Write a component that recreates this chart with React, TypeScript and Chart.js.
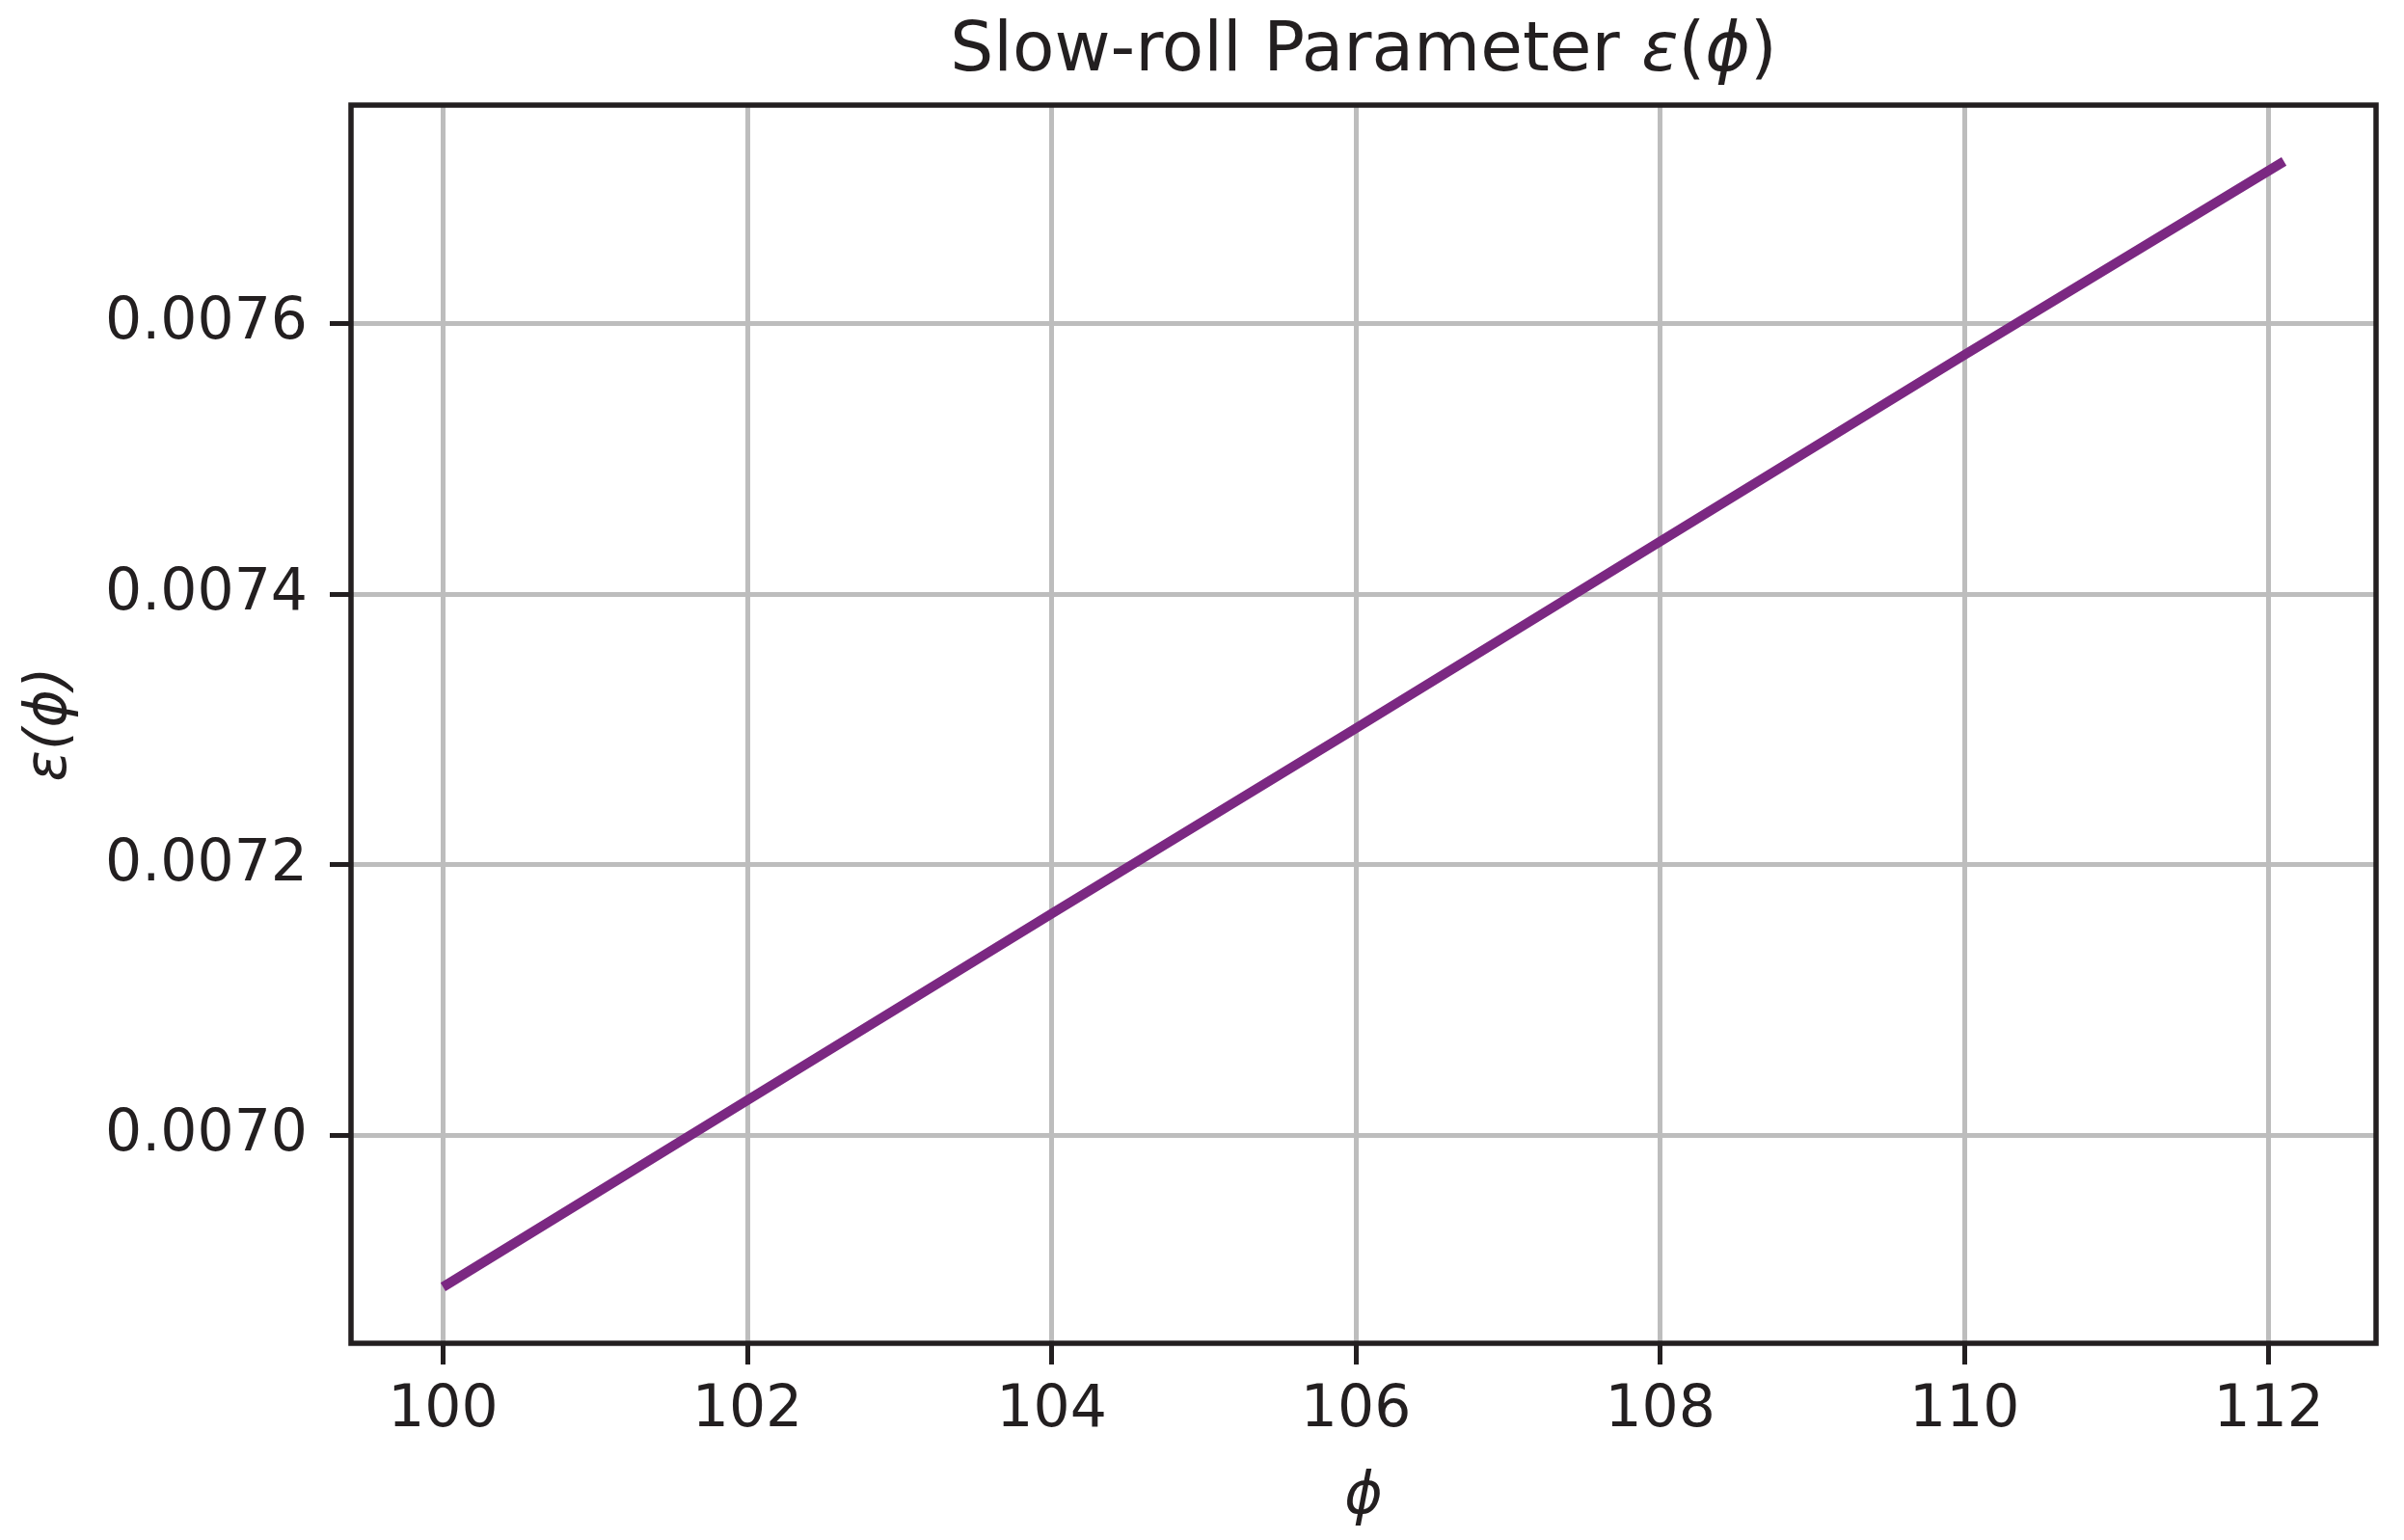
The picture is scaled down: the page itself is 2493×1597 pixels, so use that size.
import { Chart, registerables } from 'chart.js';
import { useEffect, useRef } from 'react';

Chart.register(...registerables);

// values
const phiValues = [100, 102, 104, 106, 108, 110, 112.1];
const epsilonValues = [0.006888, 0.007026, 0.007164, 0.007301, 0.007439, 0.007577, 0.00772];
const xTickValues = [100, 102, 104, 106, 108, 110, 112];
const yTickValues = [0.007, 0.0072, 0.0074, 0.0076];

const TEXT = '#231f20';
const FONT = "'DejaVu Sans', sans-serif";
// title pieces: [text, italic?] (mathtext keeps brackets upright)
const titleParts: [string, boolean][] = [
  ['Slow-roll Parameter ', false],
  ['ε', true],
  ['(', false],
  ['ϕ', true],
  [')', false],
];

// matplotlib-like 5% margins
const pad = (arr: number[]) => {
  const lo = Math.min(...arr);
  const hi = Math.max(...arr);
  const m = (hi - lo) * 0.05;
  return [lo - m, hi + m];
};

// box round the plot + title with an italic math part
const frame = {
  id: 'frame',
  afterDraw(chart: any) {
    const { ctx, chartArea } = chart;
    ctx.save();
    ctx.strokeStyle = TEXT;
    ctx.lineWidth = 5.5;
    ctx.strokeRect(
      chartArea.left,
      chartArea.top,
      chartArea.right - chartArea.left,
      chartArea.bottom - chartArea.top,
    );

    ctx.fillStyle = TEXT;
    ctx.textBaseline = 'middle';
    ctx.textAlign = 'left';
    const fontOf = (it: boolean) => `${it ? 'italic' : 'normal'} 71px ${FONT}`;
    const widths = titleParts.map(([t, it]) => {
      ctx.font = fontOf(it);
      return ctx.measureText(t).width;
    });
    const total = widths.reduce((a, b) => a + b, 0);
    let x = (chartArea.left + chartArea.right) / 2 - total / 2;
    titleParts.forEach(([t, it], i) => {
      ctx.font = fontOf(it);
      ctx.fillText(t, x, 55);
      x += widths[i];
    });
    ctx.restore();
  },
};

function SlowRollChart() {
  const canvasRef = useRef<HTMLCanvasElement | null>(null);

  useEffect(() => {
    const [xMin, xMax] = pad(phiValues);
    const [yMin, yMax] = pad(epsilonValues);

    const chart = new Chart(canvasRef.current as HTMLCanvasElement, {
      type: 'line',
      data: {
        datasets: [
          {
            data: phiValues.map((x, i) => ({ x, y: epsilonValues[i] })),
            borderColor: '#7b2882',
            borderWidth: 10,
            pointRadius: 0,
            tension: 0,
            borderCapStyle: 'butt',
          },
        ],
      },
      options: {
        animation: false,
        responsive: true,
        maintainAspectRatio: false,
        devicePixelRatio: 1,
        layout: { padding: { left: 0, right: 29, top: 109, bottom: 0 } },
        plugins: {
          legend: { display: false },
          tooltip: { enabled: false },
          title: { display: false },
        },
        scales: {
          x: {
            type: 'linear',
            min: xMin,
            max: xMax,
            afterBuildTicks: (s: any) => {
              s.ticks = xTickValues.map((v) => ({ value: v }));
            },
            afterFit: (s: any) => {
              s.height = 204;
            },
            border: { display: false },
            grid: {
              color: '#bdbdbd',
              lineWidth: 5,
              tickColor: TEXT,
              tickWidth: 5,
              tickLength: 22,
            },
            ticks: {
              color: TEXT,
              padding: 12,
              maxRotation: 0,
              font: { family: FONT, size: 60 },
              callback: (v: any) => String(v),
            },
            title: {
              display: true,
              text: 'ϕ',
              color: TEXT,
              font: { family: FONT, size: 60, style: 'italic' },
              padding: { top: 0, bottom: 8 },
            },
          },
          y: {
            type: 'linear',
            min: yMin,
            max: yMax,
            afterBuildTicks: (s: any) => {
              s.ticks = yTickValues.map((v) => ({ value: v }));
            },
            afterFit: (s: any) => {
              s.width = 364;
            },
            border: { display: false },
            grid: {
              color: '#bdbdbd',
              lineWidth: 5,
              tickColor: TEXT,
              tickWidth: 5,
              tickLength: 22,
            },
            ticks: {
              color: TEXT,
              padding: 23,
              font: { family: FONT, size: 60 },
              callback: (v: any) => Number(v).toFixed(4),
            },
            title: {
              display: true,
              text: 'ε(ϕ)',
              color: TEXT,
              font: { family: FONT, size: 60, style: 'italic' },
              padding: { top: 16, bottom: 0 },
            },
          },
        },
      },
      plugins: [frame],
    });

    return () => chart.destroy();
  }, []);

  return (
    <div style={{ position: 'absolute', left: 0, top: 0, width: 2493, height: 1597, background: '#fff' }}>
      <canvas ref={canvasRef}></canvas>
    </div>
  );
}

export default function App() {
  return <SlowRollChart />;
}
